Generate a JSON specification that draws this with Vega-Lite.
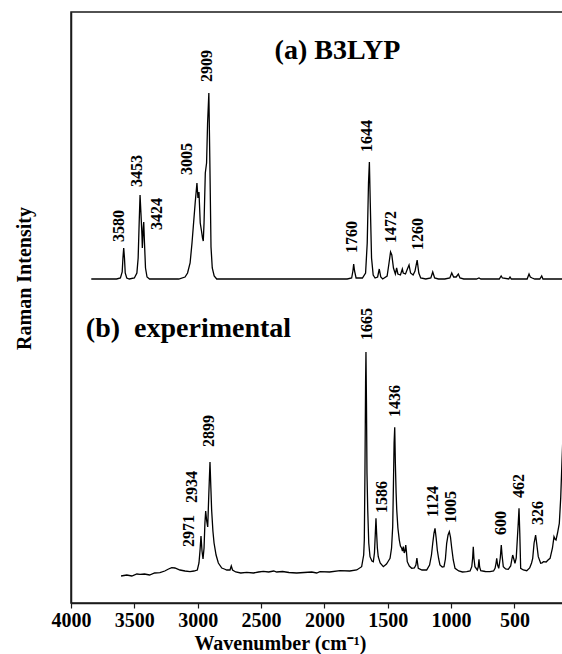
{
  "$schema": "https://vega.github.io/schema/vega-lite/v6.json",
  "width": 493,
  "height": 591,
  "autosize": {"type": "none"},
  "padding": {"left": 71, "top": 12, "right": 0, "bottom": 51},
  "background": "white",
  "config": {
    "view": {"stroke": "#1a1a1a", "strokeWidth": 1.5},
    "font": "Liberation Serif",
    "axis": {"labelFontWeight": 700, "titleFontWeight": 700}
  },
  "datasets": {
    "spectra": [
      {"series": "B3LYP", "wn": 3840, "intensity": 324},
      {"series": "B3LYP", "wn": 3640, "intensity": 324},
      {"series": "B3LYP", "wn": 3610, "intensity": 325},
      {"series": "B3LYP", "wn": 3596, "intensity": 331},
      {"series": "B3LYP", "wn": 3590, "intensity": 345},
      {"series": "B3LYP", "wn": 3584, "intensity": 355},
      {"series": "B3LYP", "wn": 3578, "intensity": 345},
      {"series": "B3LYP", "wn": 3572, "intensity": 330},
      {"series": "B3LYP", "wn": 3560, "intensity": 325},
      {"series": "B3LYP", "wn": 3540, "intensity": 324},
      {"series": "B3LYP", "wn": 3500, "intensity": 325},
      {"series": "B3LYP", "wn": 3480, "intensity": 330},
      {"series": "B3LYP", "wn": 3470, "intensity": 345},
      {"series": "B3LYP", "wn": 3462, "intensity": 380},
      {"series": "B3LYP", "wn": 3455, "intensity": 408},
      {"series": "B3LYP", "wn": 3448, "intensity": 390},
      {"series": "B3LYP", "wn": 3440, "intensity": 368},
      {"series": "B3LYP", "wn": 3437, "intensity": 355},
      {"series": "B3LYP", "wn": 3430, "intensity": 375},
      {"series": "B3LYP", "wn": 3426, "intensity": 381},
      {"series": "B3LYP", "wn": 3420, "intensity": 360},
      {"series": "B3LYP", "wn": 3412, "intensity": 335},
      {"series": "B3LYP", "wn": 3400, "intensity": 326},
      {"series": "B3LYP", "wn": 3380, "intensity": 324},
      {"series": "B3LYP", "wn": 3150, "intensity": 324},
      {"series": "B3LYP", "wn": 3100, "intensity": 326},
      {"series": "B3LYP", "wn": 3080, "intensity": 330},
      {"series": "B3LYP", "wn": 3060, "intensity": 340},
      {"series": "B3LYP", "wn": 3045, "intensity": 360},
      {"series": "B3LYP", "wn": 3035, "intensity": 376},
      {"series": "B3LYP", "wn": 3020, "intensity": 400},
      {"series": "B3LYP", "wn": 3006, "intensity": 420},
      {"series": "B3LYP", "wn": 2998, "intensity": 405},
      {"series": "B3LYP", "wn": 2990, "intensity": 411},
      {"series": "B3LYP", "wn": 2980, "intensity": 380},
      {"series": "B3LYP", "wn": 2970, "intensity": 372},
      {"series": "B3LYP", "wn": 2962, "intensity": 365},
      {"series": "B3LYP", "wn": 2956, "intensity": 362},
      {"series": "B3LYP", "wn": 2950, "intensity": 380},
      {"series": "B3LYP", "wn": 2940, "intensity": 430},
      {"series": "B3LYP", "wn": 2930, "intensity": 440},
      {"series": "B3LYP", "wn": 2922, "intensity": 480},
      {"series": "B3LYP", "wn": 2912, "intensity": 510},
      {"series": "B3LYP", "wn": 2904, "intensity": 440},
      {"series": "B3LYP", "wn": 2895, "intensity": 356},
      {"series": "B3LYP", "wn": 2885, "intensity": 335},
      {"series": "B3LYP", "wn": 2870, "intensity": 327},
      {"series": "B3LYP", "wn": 2850, "intensity": 324},
      {"series": "B3LYP", "wn": 1820, "intensity": 324},
      {"series": "B3LYP", "wn": 1785, "intensity": 325},
      {"series": "B3LYP", "wn": 1775, "intensity": 332},
      {"series": "B3LYP", "wn": 1769, "intensity": 339},
      {"series": "B3LYP", "wn": 1762, "intensity": 332},
      {"series": "B3LYP", "wn": 1750, "intensity": 325},
      {"series": "B3LYP", "wn": 1700, "intensity": 325},
      {"series": "B3LYP", "wn": 1675, "intensity": 330},
      {"series": "B3LYP", "wn": 1662, "intensity": 360},
      {"series": "B3LYP", "wn": 1652, "intensity": 420},
      {"series": "B3LYP", "wn": 1645, "intensity": 441},
      {"series": "B3LYP", "wn": 1638, "intensity": 400},
      {"series": "B3LYP", "wn": 1628, "intensity": 345},
      {"series": "B3LYP", "wn": 1615, "intensity": 328},
      {"series": "B3LYP", "wn": 1600, "intensity": 325},
      {"series": "B3LYP", "wn": 1580, "intensity": 326},
      {"series": "B3LYP", "wn": 1567, "intensity": 334},
      {"series": "B3LYP", "wn": 1555, "intensity": 326},
      {"series": "B3LYP", "wn": 1540, "intensity": 324},
      {"series": "B3LYP", "wn": 1505, "intensity": 327},
      {"series": "B3LYP", "wn": 1490, "intensity": 340},
      {"series": "B3LYP", "wn": 1478, "intensity": 351},
      {"series": "B3LYP", "wn": 1468, "intensity": 348},
      {"series": "B3LYP", "wn": 1455, "intensity": 335},
      {"series": "B3LYP", "wn": 1440, "intensity": 329},
      {"series": "B3LYP", "wn": 1430, "intensity": 335},
      {"series": "B3LYP", "wn": 1420, "intensity": 329},
      {"series": "B3LYP", "wn": 1400, "intensity": 328},
      {"series": "B3LYP", "wn": 1385, "intensity": 334},
      {"series": "B3LYP", "wn": 1378, "intensity": 330},
      {"series": "B3LYP", "wn": 1360, "intensity": 329},
      {"series": "B3LYP", "wn": 1345, "intensity": 334},
      {"series": "B3LYP", "wn": 1332, "intensity": 338},
      {"series": "B3LYP", "wn": 1320, "intensity": 330},
      {"series": "B3LYP", "wn": 1300, "intensity": 328},
      {"series": "B3LYP", "wn": 1285, "intensity": 332},
      {"series": "B3LYP", "wn": 1268, "intensity": 343},
      {"series": "B3LYP", "wn": 1255, "intensity": 330},
      {"series": "B3LYP", "wn": 1240, "intensity": 325},
      {"series": "B3LYP", "wn": 1200, "intensity": 324},
      {"series": "B3LYP", "wn": 1160, "intensity": 325},
      {"series": "B3LYP", "wn": 1145, "intensity": 331},
      {"series": "B3LYP", "wn": 1130, "intensity": 325},
      {"series": "B3LYP", "wn": 1100, "intensity": 324},
      {"series": "B3LYP", "wn": 1050, "intensity": 324},
      {"series": "B3LYP", "wn": 1010, "intensity": 325},
      {"series": "B3LYP", "wn": 995, "intensity": 330},
      {"series": "B3LYP", "wn": 980, "intensity": 326},
      {"series": "B3LYP", "wn": 960, "intensity": 326},
      {"series": "B3LYP", "wn": 943, "intensity": 329},
      {"series": "B3LYP", "wn": 930, "intensity": 325},
      {"series": "B3LYP", "wn": 900, "intensity": 324},
      {"series": "B3LYP", "wn": 800, "intensity": 324},
      {"series": "B3LYP", "wn": 780, "intensity": 325},
      {"series": "B3LYP", "wn": 765, "intensity": 324},
      {"series": "B3LYP", "wn": 620, "intensity": 324},
      {"series": "B3LYP", "wn": 605, "intensity": 327},
      {"series": "B3LYP", "wn": 595, "intensity": 325},
      {"series": "B3LYP", "wn": 545, "intensity": 324},
      {"series": "B3LYP", "wn": 535, "intensity": 326},
      {"series": "B3LYP", "wn": 525, "intensity": 324},
      {"series": "B3LYP", "wn": 400, "intensity": 324},
      {"series": "B3LYP", "wn": 385, "intensity": 329},
      {"series": "B3LYP", "wn": 375, "intensity": 326},
      {"series": "B3LYP", "wn": 360, "intensity": 325},
      {"series": "B3LYP", "wn": 340, "intensity": 324},
      {"series": "B3LYP", "wn": 300, "intensity": 324},
      {"series": "B3LYP", "wn": 285, "intensity": 327},
      {"series": "B3LYP", "wn": 275, "intensity": 324},
      {"series": "B3LYP", "wn": 100, "intensity": 324},
      {"series": "exp", "wn": 3605, "intensity": 27},
      {"series": "exp", "wn": 3560, "intensity": 28},
      {"series": "exp", "wn": 3520, "intensity": 27},
      {"series": "exp", "wn": 3480, "intensity": 29},
      {"series": "exp", "wn": 3455, "intensity": 28.7},
      {"series": "exp", "wn": 3420, "intensity": 29},
      {"series": "exp", "wn": 3380, "intensity": 28},
      {"series": "exp", "wn": 3340, "intensity": 30},
      {"series": "exp", "wn": 3298, "intensity": 30.3},
      {"series": "exp", "wn": 3260, "intensity": 32},
      {"series": "exp", "wn": 3230, "intensity": 34},
      {"series": "exp", "wn": 3205, "intensity": 35.3},
      {"series": "exp", "wn": 3180, "intensity": 35},
      {"series": "exp", "wn": 3140, "intensity": 33},
      {"series": "exp", "wn": 3100, "intensity": 32},
      {"series": "exp", "wn": 3061, "intensity": 31.3},
      {"series": "exp", "wn": 3030, "intensity": 32},
      {"series": "exp", "wn": 3003, "intensity": 33},
      {"series": "exp", "wn": 2990, "intensity": 40},
      {"series": "exp", "wn": 2982, "intensity": 52},
      {"series": "exp", "wn": 2974, "intensity": 67},
      {"series": "exp", "wn": 2966, "intensity": 52},
      {"series": "exp", "wn": 2958, "intensity": 44},
      {"series": "exp", "wn": 2950, "intensity": 55},
      {"series": "exp", "wn": 2943, "intensity": 80},
      {"series": "exp", "wn": 2937, "intensity": 92},
      {"series": "exp", "wn": 2929, "intensity": 82},
      {"series": "exp", "wn": 2921, "intensity": 76},
      {"series": "exp", "wn": 2912, "intensity": 110},
      {"series": "exp", "wn": 2903, "intensity": 141},
      {"series": "exp", "wn": 2896, "intensity": 115},
      {"series": "exp", "wn": 2890, "intensity": 93},
      {"series": "exp", "wn": 2880, "intensity": 72},
      {"series": "exp", "wn": 2871, "intensity": 60},
      {"series": "exp", "wn": 2855, "intensity": 48},
      {"series": "exp", "wn": 2837, "intensity": 40},
      {"series": "exp", "wn": 2810, "intensity": 35},
      {"series": "exp", "wn": 2790, "intensity": 34},
      {"series": "exp", "wn": 2771, "intensity": 33},
      {"series": "exp", "wn": 2745, "intensity": 33},
      {"series": "exp", "wn": 2735, "intensity": 37},
      {"series": "exp", "wn": 2725, "intensity": 33},
      {"series": "exp", "wn": 2700, "intensity": 31},
      {"series": "exp", "wn": 2660, "intensity": 30},
      {"series": "exp", "wn": 2613, "intensity": 30.7},
      {"series": "exp", "wn": 2560, "intensity": 30},
      {"series": "exp", "wn": 2520, "intensity": 31},
      {"series": "exp", "wn": 2482, "intensity": 31.7},
      {"series": "exp", "wn": 2440, "intensity": 31},
      {"series": "exp", "wn": 2400, "intensity": 32},
      {"series": "exp", "wn": 2377, "intensity": 31},
      {"series": "exp", "wn": 2330, "intensity": 31.5},
      {"series": "exp", "wn": 2280, "intensity": 30.5},
      {"series": "exp", "wn": 2219, "intensity": 30},
      {"series": "exp", "wn": 2160, "intensity": 30.5},
      {"series": "exp", "wn": 2100, "intensity": 31},
      {"series": "exp", "wn": 2061, "intensity": 30},
      {"series": "exp", "wn": 2035, "intensity": 31.3},
      {"series": "exp", "wn": 1960, "intensity": 31},
      {"series": "exp", "wn": 1877, "intensity": 32.3},
      {"series": "exp", "wn": 1800, "intensity": 32},
      {"series": "exp", "wn": 1745, "intensity": 33},
      {"series": "exp", "wn": 1706, "intensity": 36.3},
      {"series": "exp", "wn": 1690, "intensity": 48},
      {"series": "exp", "wn": 1685, "intensity": 63},
      {"series": "exp", "wn": 1680, "intensity": 130},
      {"series": "exp", "wn": 1675, "intensity": 220},
      {"series": "exp", "wn": 1672, "intensity": 251},
      {"series": "exp", "wn": 1668, "intensity": 200},
      {"series": "exp", "wn": 1664, "intensity": 130},
      {"series": "exp", "wn": 1658, "intensity": 93},
      {"series": "exp", "wn": 1650, "intensity": 60},
      {"series": "exp", "wn": 1640, "intensity": 46.3},
      {"series": "exp", "wn": 1625, "intensity": 42},
      {"series": "exp", "wn": 1614, "intensity": 41.3},
      {"series": "exp", "wn": 1605, "intensity": 50},
      {"series": "exp", "wn": 1598, "intensity": 70},
      {"series": "exp", "wn": 1593, "intensity": 84.7},
      {"series": "exp", "wn": 1588, "intensity": 70},
      {"series": "exp", "wn": 1582, "intensity": 55},
      {"series": "exp", "wn": 1575, "intensity": 46.3},
      {"series": "exp", "wn": 1560, "intensity": 40},
      {"series": "exp", "wn": 1535, "intensity": 36.3},
      {"series": "exp", "wn": 1510, "intensity": 39},
      {"series": "exp", "wn": 1495, "intensity": 42},
      {"series": "exp", "wn": 1482, "intensity": 44.7},
      {"series": "exp", "wn": 1470, "intensity": 55},
      {"series": "exp", "wn": 1461, "intensity": 76.3},
      {"series": "exp", "wn": 1455, "intensity": 120},
      {"series": "exp", "wn": 1450, "intensity": 160},
      {"series": "exp", "wn": 1445, "intensity": 175.7},
      {"series": "exp", "wn": 1440, "intensity": 140},
      {"series": "exp", "wn": 1434, "intensity": 110},
      {"series": "exp", "wn": 1429, "intensity": 93},
      {"series": "exp", "wn": 1420, "intensity": 75},
      {"series": "exp", "wn": 1409, "intensity": 63},
      {"series": "exp", "wn": 1400, "intensity": 57},
      {"series": "exp", "wn": 1390, "intensity": 54.7},
      {"series": "exp", "wn": 1384, "intensity": 52},
      {"series": "exp", "wn": 1377, "intensity": 56.3},
      {"series": "exp", "wn": 1370, "intensity": 50},
      {"series": "exp", "wn": 1364, "intensity": 52},
      {"series": "exp", "wn": 1358, "intensity": 58},
      {"series": "exp", "wn": 1353, "intensity": 52},
      {"series": "exp", "wn": 1346, "intensity": 41.3},
      {"series": "exp", "wn": 1330, "intensity": 37},
      {"series": "exp", "wn": 1311, "intensity": 34.7},
      {"series": "exp", "wn": 1290, "intensity": 35},
      {"series": "exp", "wn": 1278, "intensity": 38},
      {"series": "exp", "wn": 1270, "intensity": 45},
      {"series": "exp", "wn": 1265, "intensity": 40},
      {"series": "exp", "wn": 1259, "intensity": 34.7},
      {"series": "exp", "wn": 1230, "intensity": 33},
      {"series": "exp", "wn": 1193, "intensity": 33},
      {"series": "exp", "wn": 1170, "intensity": 38},
      {"series": "exp", "wn": 1155, "intensity": 48},
      {"series": "exp", "wn": 1145, "intensity": 59.7},
      {"series": "exp", "wn": 1135, "intensity": 70},
      {"series": "exp", "wn": 1127, "intensity": 74.7},
      {"series": "exp", "wn": 1118, "intensity": 65},
      {"series": "exp", "wn": 1109, "intensity": 53},
      {"series": "exp", "wn": 1098, "intensity": 44},
      {"series": "exp", "wn": 1088, "intensity": 38},
      {"series": "exp", "wn": 1070, "intensity": 36},
      {"series": "exp", "wn": 1056, "intensity": 36.3},
      {"series": "exp", "wn": 1045, "intensity": 44},
      {"series": "exp", "wn": 1035, "intensity": 59.7},
      {"series": "exp", "wn": 1024, "intensity": 68},
      {"series": "exp", "wn": 1014, "intensity": 71.3},
      {"series": "exp", "wn": 1005, "intensity": 66},
      {"series": "exp", "wn": 995, "intensity": 54.7},
      {"series": "exp", "wn": 983, "intensity": 43},
      {"series": "exp", "wn": 969, "intensity": 34.7},
      {"series": "exp", "wn": 940, "intensity": 32},
      {"series": "exp", "wn": 910, "intensity": 31},
      {"series": "exp", "wn": 877, "intensity": 31.3},
      {"series": "exp", "wn": 850, "intensity": 32},
      {"series": "exp", "wn": 837, "intensity": 36.3},
      {"series": "exp", "wn": 830, "intensity": 45},
      {"series": "exp", "wn": 825, "intensity": 56.3},
      {"series": "exp", "wn": 820, "intensity": 45},
      {"series": "exp", "wn": 812, "intensity": 36.3},
      {"series": "exp", "wn": 793, "intensity": 33},
      {"series": "exp", "wn": 786, "intensity": 36},
      {"series": "exp", "wn": 780, "intensity": 43.7},
      {"series": "exp", "wn": 775, "intensity": 36},
      {"series": "exp", "wn": 766, "intensity": 32.3},
      {"series": "exp", "wn": 730, "intensity": 31.5},
      {"series": "exp", "wn": 693, "intensity": 31.3},
      {"series": "exp", "wn": 665, "intensity": 32},
      {"series": "exp", "wn": 653, "intensity": 34.7},
      {"series": "exp", "wn": 645, "intensity": 40},
      {"series": "exp", "wn": 640, "intensity": 44.7},
      {"series": "exp", "wn": 633, "intensity": 38},
      {"series": "exp", "wn": 624, "intensity": 34.7},
      {"series": "exp", "wn": 612, "intensity": 45},
      {"series": "exp", "wn": 604, "intensity": 58},
      {"series": "exp", "wn": 598, "intensity": 48},
      {"series": "exp", "wn": 588, "intensity": 36.3},
      {"series": "exp", "wn": 570, "intensity": 34},
      {"series": "exp", "wn": 549, "intensity": 33.7},
      {"series": "exp", "wn": 530, "intensity": 37},
      {"series": "exp", "wn": 520, "intensity": 44},
      {"series": "exp", "wn": 514, "intensity": 48},
      {"series": "exp", "wn": 505, "intensity": 44},
      {"series": "exp", "wn": 496, "intensity": 39.7},
      {"series": "exp", "wn": 486, "intensity": 45},
      {"series": "exp", "wn": 470, "intensity": 80},
      {"series": "exp", "wn": 464, "intensity": 94.7},
      {"series": "exp", "wn": 458, "intensity": 70},
      {"series": "exp", "wn": 451, "intensity": 34.7},
      {"series": "exp", "wn": 430, "intensity": 33},
      {"series": "exp", "wn": 403, "intensity": 32.3},
      {"series": "exp", "wn": 380, "intensity": 35},
      {"series": "exp", "wn": 365, "intensity": 40},
      {"series": "exp", "wn": 356, "intensity": 44.7},
      {"series": "exp", "wn": 345, "intensity": 60},
      {"series": "exp", "wn": 333, "intensity": 68},
      {"series": "exp", "wn": 325, "intensity": 60},
      {"series": "exp", "wn": 312, "intensity": 46.3},
      {"series": "exp", "wn": 293, "intensity": 39.7},
      {"series": "exp", "wn": 282, "intensity": 40},
      {"series": "exp", "wn": 272, "intensity": 41.3},
      {"series": "exp", "wn": 250, "intensity": 41},
      {"series": "exp", "wn": 235, "intensity": 43},
      {"series": "exp", "wn": 219, "intensity": 44.7},
      {"series": "exp", "wn": 200, "intensity": 55},
      {"series": "exp", "wn": 188, "intensity": 66.3},
      {"series": "exp", "wn": 180, "intensity": 64},
      {"series": "exp", "wn": 172, "intensity": 63},
      {"series": "exp", "wn": 160, "intensity": 70},
      {"series": "exp", "wn": 146, "intensity": 79.7},
      {"series": "exp", "wn": 135, "intensity": 105},
      {"series": "exp", "wn": 125, "intensity": 141.3},
      {"series": "exp", "wn": 115, "intensity": 175},
      {"series": "exp", "wn": 105, "intensity": 210}
    ],
    "peaks": [
      {"label": "3580", "wn": 3619, "h": 361},
      {"label": "3453", "wn": 3481, "h": 416},
      {"label": "3424", "wn": 3324, "h": 373},
      {"label": "3005", "wn": 3087, "h": 428},
      {"label": "2909", "wn": 2927, "h": 521},
      {"label": "1760", "wn": 1785, "h": 350},
      {"label": "1644", "wn": 1666, "h": 451},
      {"label": "1472", "wn": 1474, "h": 360},
      {"label": "1260", "wn": 1264, "h": 353},
      {"label": "2971", "wn": 3066, "h": 56},
      {"label": "2934", "wn": 3047, "h": 100},
      {"label": "2899", "wn": 2908, "h": 156},
      {"label": "1665", "wn": 1666, "h": 263},
      {"label": "1586", "wn": 1548, "h": 90},
      {"label": "1436", "wn": 1443, "h": 186},
      {"label": "1124", "wn": 1140, "h": 86},
      {"label": "1005", "wn": 1003, "h": 80},
      {"label": "600", "wn": 606, "h": 68},
      {"label": "462", "wn": 464, "h": 105},
      {"label": "326", "wn": 311, "h": 78}
    ],
    "panels": [
      {"panel": "(a) B3LYP", "wn": 1897, "h": 552},
      {"panel": "(b)\u00a0 experimental", "wn": 3073, "h": 274.5}
    ]
  },
  "layer": [
    {
      "data": {"name": "spectra"},
      "mark": {"type": "line", "color": "black", "strokeWidth": 1.3, "clip": true},
      "encoding": {
        "x": {
          "field": "wn",
          "type": "quantitative",
          "scale": {"domain": [4000, 109], "nice": false, "zero": false},
          "axis": {
            "values": [4000, 3750, 3500, 3250, 3000, 2750, 2500, 2250, 2000, 1750, 1500, 1250, 1000, 750, 500, 250],
            "labelExpr": "datum.value % 500 === 0 ? datum.label : ''",
            "format": "d",
            "grid": false,
            "domainColor": "#1a1a1a",
            "domainWidth": 1.5,
            "tickColor": "#1a1a1a",
            "tickWidth": 1.2,
            "tickSize": 5,
            "labelFont": "Liberation Serif",
            "labelFontWeight": 700,
            "labelFontSize": 20,
            "labelColor": "black",
            "labelPadding": 2,
            "labelFlush": false,
            "labelOverlap": false,
            "title": "Wavenumber (cm⁻¹)",
            "titleFont": "Liberation Serif",
            "titleFontWeight": 700,
            "titleFontSize": 20,
            "titleColor": "black",
            "titleX": 209,
            "titleY": 46,
            "titleAlign": "center",
            "titleBaseline": "alphabetic"
          }
        },
        "y": {
          "field": "intensity",
          "type": "quantitative",
          "scale": {"domain": [0, 591], "nice": false, "zero": false},
          "axis": {
            "ticks": false,
            "labels": false,
            "grid": false,
            "domainColor": "#1a1a1a",
            "domainWidth": 1.5,
            "title": "Raman Intensity",
            "titleFont": "Liberation Serif",
            "titleFontWeight": 700,
            "titleFontSize": 20,
            "titleColor": "black",
            "titleAngle": 270,
            "titleX": -47,
            "titleY": 266,
            "titleAlign": "center",
            "titleBaseline": "middle"
          }
        },
        "detail": {"field": "series", "type": "nominal"}
      }
    },
    {
      "data": {"name": "peaks"},
      "mark": {"type": "text", "angle": 270, "align": "left", "baseline": "middle", "fontSize": 16, "fontWeight": "bold", "font": "Liberation Serif", "color": "black"},
      "encoding": {
        "x": {"field": "wn", "type": "quantitative"},
        "y": {"field": "h", "type": "quantitative"},
        "text": {"field": "label"}
      }
    },
    {
      "data": {"name": "panels"},
      "mark": {"type": "text", "align": "center", "baseline": "middle", "fontSize": 28, "fontWeight": "bold", "font": "Liberation Serif", "color": "black"},
      "encoding": {
        "x": {"field": "wn", "type": "quantitative"},
        "y": {"field": "h", "type": "quantitative"},
        "text": {"field": "panel"}
      }
    }
  ]
}
